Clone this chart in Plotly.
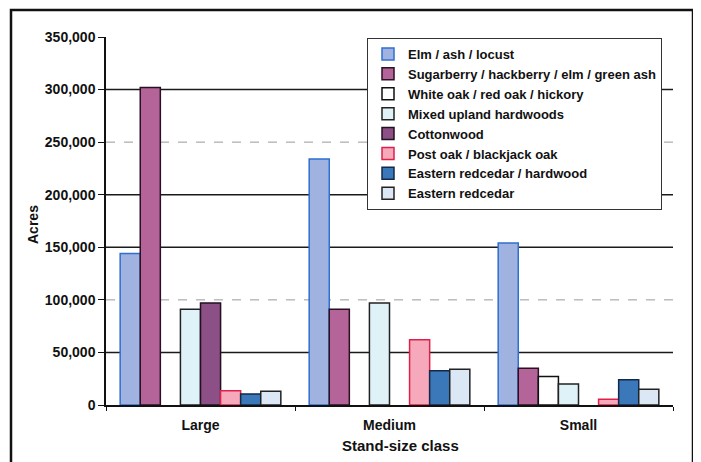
import plotly.graph_objects as go

categories = ["Large", "Medium", "Small"]

elm_ash_locust = [144000, 234000, 154000]
sugarberry_hackberry = [302000, 91000, 35000]
white_oak_red_oak = [None, None, 27000]
mixed_upland = [91000, 97000, 20000]
cottonwood = [97000, None, None]
post_oak_blackjack = [13500, 62000, 5500]
eastern_redcedar_hardwood = [10500, 32500, 24000]
eastern_redcedar = [13000, 34000, 15000]

series_names = [
    "Elm / ash / locust",
    "Sugarberry / hackberry / elm / green ash",
    "White oak / red oak / hickory",
    "Mixed upland hardwoods",
    "Cottonwood",
    "Post oak / blackjack oak",
    "Eastern redcedar / hardwood",
    "Eastern redcedar",
]
series_values = [
    elm_ash_locust,
    sugarberry_hackberry,
    white_oak_red_oak,
    mixed_upland,
    cottonwood,
    post_oak_blackjack,
    eastern_redcedar_hardwood,
    eastern_redcedar,
]
y_ticks = [0, 50000, 100000, 150000, 200000, 250000, 300000, 350000]

fills = ["#9fb2e0", "#b5649a", "#ffffff", "#dff2f8", "#8c4f86", "#f6a9ba", "#3b78b9", "#dce7f6"]
edges = ["#2f6fd0", "#2a1024", "#111111", "#222222", "#221020", "#e0204a", "#14284a", "#222222"]

FONT = "Liberation Sans, Arial, sans-serif"

# page body adds an 8px offset; figure is sized so the plot lands where the reference has it
OFF = 8
W, H = 701 - OFF, 462 - OFF
PL, PR, PT, PB = 106 - OFF, 673 - OFF, 37 - OFF, 405 - OFF  # plot box in figure px
PW, PH = PR - PL, PB - PT


def px(xabs):
    return (xabs - OFF - PL) / PW


def py(yabs):
    return (PB - (yabs - OFF)) / PH


fig = go.Figure()
for name, vals, fc, ec in zip(series_names, series_values, fills, edges):
    fig.add_trace(go.Bar(
        name=name, x=categories, y=vals,
        marker=dict(color=fc, line=dict(color=ec, width=1.5)),
    ))

shapes = []
faint = {100000, 250000}
for v in y_ticks[1:-1]:
    if v in faint:
        shapes.append(dict(type="line", xref="paper", x0=0, x1=1, yref="y", y0=v, y1=v,
                           layer="below", line=dict(color="#9a9a9a", width=1, dash="dash")))
    else:
        shapes.append(dict(type="line", xref="paper", x0=0, x1=1, yref="y", y0=v, y1=v,
                           layer="below", line=dict(color="#1a1a1a", width=1.5)))
# outer chart frame
shapes.append(dict(type="rect", xref="paper", yref="paper",
                   x0=px(11), x1=px(693), y0=py(470), y1=py(10),
                   line=dict(color="#111111", width=2.5), fillcolor="rgba(0,0,0,0)"))

fig.update_layout(
    width=W, height=H,
    margin=dict(l=PL, r=W - PR, t=PT, b=H - PB, pad=0),
    paper_bgcolor="white", plot_bgcolor="white",
    barmode="group", bargap=0.15, bargroupgap=0,
    font=dict(family=FONT, size=14, color="#111111", weight="bold"),
    showlegend=True,
    legend=dict(
        x=px(662), xanchor="right", y=py(38), yanchor="top",
        bgcolor="white", bordercolor="#333333", borderwidth=1,
        font=dict(family=FONT, size=13, color="#111111", weight="bold"),
        traceorder="normal", itemwidth=30, tracegroupgap=0,
    ),
    xaxis=dict(
        showline=True, linecolor="#111111", linewidth=1.5,
        ticks="outside", tickson="boundaries", ticklen=4, tickcolor="#111111",
        ticklabelstandoff=6,
        tickfont=dict(family=FONT, size=14, color="#111111", weight="bold"),
        showgrid=False,
    ),
    yaxis=dict(
        range=[0, 350000], tickvals=y_ticks, tickformat=",",
        showline=True, linecolor="#111111", linewidth=1.5,
        ticks="outside", ticklen=6, tickcolor="#111111",
        tickfont=dict(family=FONT, size=14, color="#111111", weight="bold"),
        showgrid=False, zeroline=False,
    ),
    shapes=shapes,
    annotations=[
        dict(text="Acres", textangle=-90, xref="paper", yref="paper",
             x=px(33), y=py(225), xanchor="center", yanchor="middle",
             showarrow=False, font=dict(family=FONT, size=14, color="#111111", weight="bold")),
        dict(text="Stand-size class", xref="paper", yref="paper",
             x=px(400), y=py(446), xanchor="center", yanchor="middle",
             showarrow=False, font=dict(family=FONT, size=15, color="#111111", weight="bold")),
    ],
)

fig.write_html("out.html")
